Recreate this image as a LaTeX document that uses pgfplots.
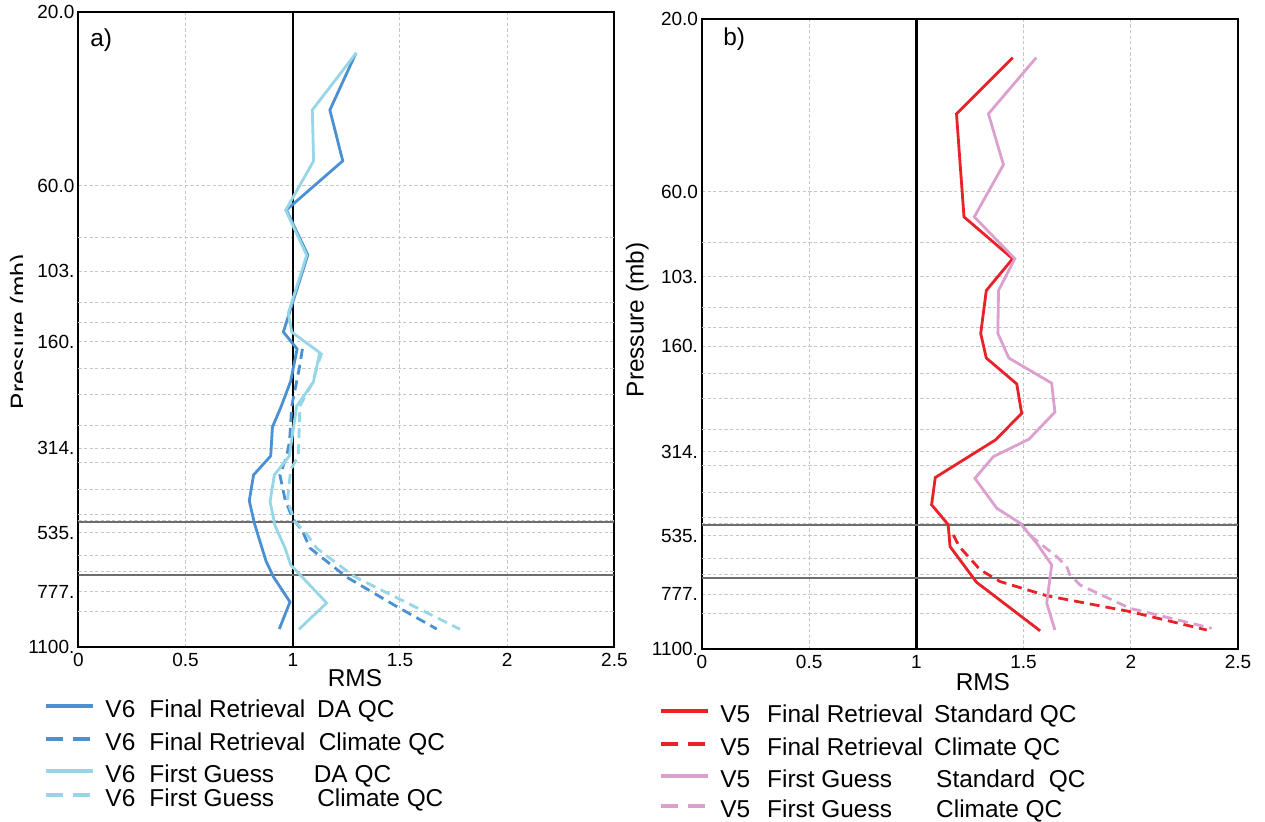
\documentclass[border=0pt]{standalone}
\usepackage{fontspec}
\setmainfont{Liberation Sans}
\usepackage{pgfplots}
\pgfplotsset{compat=1.18}
\definecolor{frblue}{RGB}{74,144,210}
\definecolor{fgblue}{RGB}{150,214,230}
\definecolor{frred}{RGB}{232,34,40}
\definecolor{fgpink}{RGB}{220,160,206}
\definecolor{refgray}{RGB}{110,110,110}
\newcommand{\tickfont}{\fontsize{9.5}{11}\selectfont}
\newcommand{\labfont}{\fontsize{12.2}{14}\selectfont}
\newcommand{\st}[1]{\rule[-#1]{0pt}{\dimexpr #1+9pt\relax}}
\pgfplotsset{
  every axis/.append style={
    scale only axis, width=268pt,
    xmin=0, xmax=2.5, ymin=20, ymax=1100,
    xtick={0,0.5,1,1.5,2,2.5},
    xticklabels={0,0.5,1,1.5,2,2.5},
    ytick={20,60,103.0172,160.4959,314.1369,535.2322,777.7897,1100},
    yticklabels={20.0,60.0,103.,160.,314.,535.,777.,1100.},
    extra y ticks={83.23,125.65,142.38,190.32,223.44,272.92,343.62,407.47,477.96,496.63,617.51,683.67,878.62},
    extra y tick labels={},
    extra y tick style={grid=major},
    xmajorgrids, ymajorgrids,
    grid style={gray!45, line width=0.5pt, dash pattern=on 1.6pt off 1.2pt},
    major tick length=0pt,
    axis line style={line width=1pt, black},
    tick label style={font=\tickfont},
    yticklabel style={inner sep=0pt, xshift=-1.8pt, anchor=east},
    xticklabel style={inner sep=0pt, yshift=-3pt, anchor=north},
    legend cell align=left,
    legend style={draw=none, fill=none, inner sep=0pt, outer sep=0pt, anchor=north west,
      column sep=5pt, row sep=0pt, font=\labfont, cells={anchor=base west},
      nodes={inner sep=0pt, text depth={}, text height={}}},
  },
  legend image code/.code={\draw[#1, line width=2pt] (0pt,5.8pt) -- (23.7pt,5.8pt);},
}
\begin{document}
\begin{tikzpicture}
\useasboundingbox (0pt,0pt) rectangle (632.5pt,-411pt);
% ---------------- panel a ----------------
\begin{axis}[ymode=log, y dir=reverse, at={(39.2pt,-323.4pt)}, anchor=south west, height=317.6pt,
  xlabel={RMS},
  xlabel style={font=\labfont, at={(axis description cs:0.516,0)}, anchor=base, yshift=-20pt},
  legend style={at={(-0.0640,-0.0834)}}]
\addplot[black, line width=1.2pt, forget plot] coordinates {(1,20) (1,1100)};
\addplot[refgray, line width=1pt, forget plot] coordinates {(0,500) (2.5,500)};
\addplot[refgray, line width=1pt, forget plot] coordinates {(0,700) (2.5,700)};
\addplot[frblue, line width=1.4pt] coordinates {
(1.295,25.95) (1.173,37.2) (1.233,51.3) (0.970,69.9) (1.070,92.8) (0.956,150.9) (1.020,168)
(0.990,206) (0.944,243) (0.905,275) (0.897,330) (0.817,372) (0.797,438) (0.822,507)
(0.875,640) (0.910,708) (0.987,829) (0.937,983)};
\addlegendentry{\st{7.6pt}\makebox[22pt][l]{V6}\makebox[83.9pt][l]{Final Retrieval}DA QC}
\addplot[frblue, line width=1.4pt, dash pattern=on 5pt off 3pt, legend image post style={dash pattern=on 8.5pt off 5pt}] coordinates {
(1.045,168) (1.030,190) (0.995,241) (0.985,300) (0.972,330) (0.940,372) (0.965,437)
(1.000,490) (1.045,530) (1.080,590) (1.250,708) (1.480,850) (1.671,983)};
\addlegendentry{\st{7pt}\makebox[22pt][l]{V6}\makebox[84.7pt][l]{Final Retrieval}Climate QC}
\addplot[fgblue, line width=1.4pt] coordinates {
(1.296,25.95) (1.091,37.2) (1.097,51.3) (0.967,70) (1.065,93) (0.979,134) (0.995,151)
(1.126,172) (1.096,207) (1.018,241) (0.984,330) (0.914,372) (0.894,440) (0.917,512)
(0.964,590) (0.990,656) (1.158,834) (1.029,985)};
\addlegendentry{\st{3pt}\makebox[22pt][l]{V6}\makebox[82.2pt][l]{First Guess}DA QC}
\addplot[fgblue, line width=1.4pt, dash pattern=on 5pt off 3pt, legend image post style={dash pattern=on 8.5pt off 5pt}] coordinates {
(1.135,172) (1.088,210) (1.033,241) (1.026,330) (0.990,360) (0.975,437) (1.010,500)
(1.060,535) (1.111,590) (1.285,705) (1.780,985)};
\addlegendentry{\st{3pt}\makebox[22pt][l]{V6}\makebox[83.9pt][l]{First Guess}Climate QC}
\node[anchor=base west, font=\labfont, inner sep=0pt] at (axis description cs:0.0216,0.9443) {a)};
\end{axis}
% ---------------- panel b ----------------
\begin{axis}[ymode=log, y dir=reverse, at={(351pt,-324.4pt)}, anchor=south west, height=315pt,
  xlabel={RMS},
  xlabel style={font=\labfont, at={(axis description cs:0.524,0)}, anchor=base, yshift=-20.8pt},
  legend style={at={(-0.0805,-0.0885)}}]
\addplot[black, line width=1.2pt, forget plot] coordinates {(1,20) (1,1100)};
\addplot[refgray, line width=1pt, forget plot] coordinates {(0,500) (2.5,500)};
\addplot[refgray, line width=1pt, forget plot] coordinates {(0,700) (2.5,700)};
\addplot[frred, line width=1.4pt] coordinates {
(1.449,25.6) (1.187,36.6) (1.222,70.5) (1.449,92) (1.326,112.6) (1.300,148) (1.326,173)
(1.468,204) (1.491,246) (1.370,291) (1.088,370) (1.071,440) (1.148,499) (1.157,574)
(1.280,720) (1.577,981)};
\addlegendentry{\st{7.5pt}\makebox[23.5pt][l]{V5}\makebox[83.5pt][l]{Final Retrieval}Standard QC}
\addplot[frred, line width=1.4pt, dash pattern=on 5pt off 3pt, legend image post style={dash pattern=on 8.5pt off 5pt}] coordinates {
(1.172,533) (1.200,574) (1.297,665) (1.390,717) (1.608,785) (1.996,868) (2.354,976)};
\addlegendentry{\st{7pt}\makebox[23.5pt][l]{V5}\makebox[83.5pt][l]{Final Retrieval}Climate QC}
\addplot[fgpink, line width=1.4pt] coordinates {
(1.559,25.6) (1.336,36.6) (1.406,50.6) (1.270,70.5) (1.459,92) (1.383,112.6) (1.380,148)
(1.431,173) (1.631,203) (1.646,244) (1.525,290) (1.359,324) (1.273,372) (1.375,450)
(1.483,494) (1.561,562) (1.631,645) (1.608,823) (1.646,976)};
\addlegendentry{\st{6pt}\makebox[23.5pt][l]{V5}\makebox[84.5pt][l]{First Guess}Standard\ \ QC}
\addplot[fgpink, line width=1.4pt, dash pattern=on 5pt off 3pt, legend image post style={dash pattern=on 8.5pt off 5pt}] coordinates {
(1.483,494) (1.538,539) (1.654,612) (1.700,650) (1.715,685) (1.763,733) (1.996,850) (2.377,965)};
\addlegendentry{\st{3pt}\makebox[23.5pt][l]{V5}\makebox[84.5pt][l]{First Guess}Climate QC}
\node[anchor=base west, font=\labfont, inner sep=0pt] at (axis description cs:0.039,0.9584) {b)};
\end{axis}
% y labels
\begin{scope}
\clip (0pt,0pt) rectangle (11.2pt,-411pt);
\node[rotate=90, anchor=base, font=\labfont, inner sep=0pt] at (13.85pt,-166pt) {Pressure (mb)};
\end{scope}
\node[rotate=90, anchor=base, font=\labfont, inner sep=0pt] at (321.75pt,-160pt) {Pressure (mb)};
\end{tikzpicture}
\end{document}
